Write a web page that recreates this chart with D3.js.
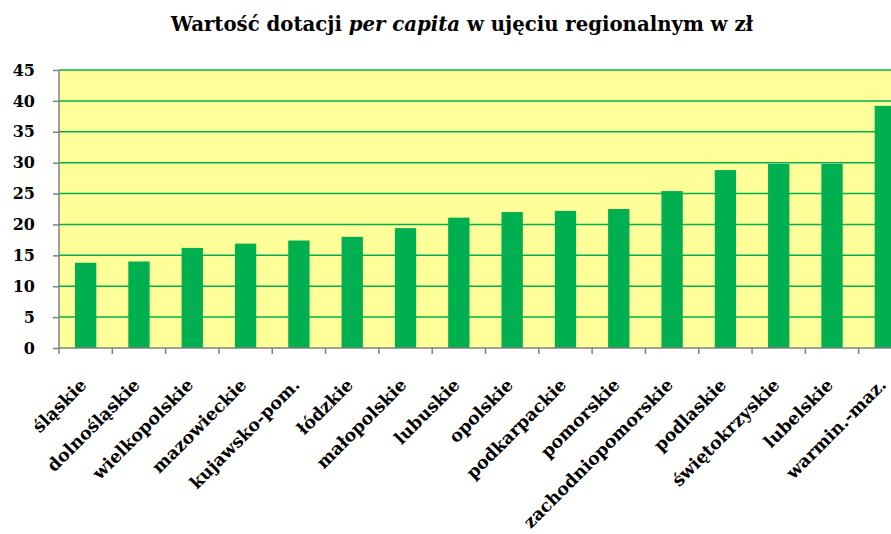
<!DOCTYPE html>
<html>
<head>
<meta charset="utf-8">
<script src="https://cdn.jsdelivr.net/npm/d3@7"></script>
<style>
  body { margin: 0; background: #fff; }
  .tick text { font-family: "DejaVu Serif", serif; font-weight: bold; }
</style>
</head>
<body>
<script>
// data
var regions = ["śląskie", "dolnośląskie", "wielkopolskie", "mazowieckie", "kujawsko-pom.",
  "łódzkie", "małopolskie", "lubuskie", "opolskie", "podkarpackie", "pomorskie",
  "zachodniopomorskie", "podlaskie", "świętokrzyskie", "lubelskie", "warmin.-maz."];
var values = [13.8, 14.0, 16.2, 16.9, 17.4, 18.0, 19.4, 21.1, 22.0, 22.2, 22.5, 25.4, 28.8, 29.8, 29.8, 39.2];
var yTicks = [0, 5, 10, 15, 20, 25, 30, 35, 40, 45];

var W = 891, H = 534;
var margin = {top: 70, left: 59},
    width = 853,   // plot runs past the right edge like in the original
    height = 278;

var svg = d3.select("body").append("svg")
    .attr("width", W)
    .attr("height", H);

var x = d3.scaleBand()
    .domain(regions)
    .range([0, width])
    .paddingInner(0.6)
    .paddingOuter(0.3);
var y = d3.scaleLinear()
    .domain([0, 45])
    .range([height, 0]);

var g = svg.append("g")
    .attr("transform", "translate(" + margin.left + "," + margin.top + ")");

// plot area
g.append("rect")
    .attr("width", width)
    .attr("height", height)
    .attr("fill", "#ffff99");

// gridlines
g.selectAll(".grid")
    .data(yTicks.filter(function(d) { return d > 0; }))
    .enter().append("line")
    .attr("class", "grid")
    .attr("x1", 0)
    .attr("x2", width)
    .attr("y1", function(d) { return y(d); })
    .attr("y2", function(d) { return y(d); })
    .attr("stroke", "#00b050")
    .attr("stroke-width", 1.5);

// bars
g.selectAll(".bar")
    .data(values)
    .enter().append("rect")
    .attr("class", "bar")
    .attr("x", function(d, i) { return x(regions[i]); })
    .attr("width", x.bandwidth())
    .attr("y", function(d) { return y(d); })
    .attr("height", function(d) { return height - y(d); })
    .attr("fill", "#00b050");

// y axis
var yAxis = g.append("g")
    .call(d3.axisLeft(y).tickValues(yTicks).tickSize(6).tickPadding(18).tickFormat(d3.format("d")));
yAxis.selectAll("line, path").attr("stroke", "#808080").attr("stroke-width", 1.5);
yAxis.select(".domain").attr("d", "M0,0V" + height);
yAxis.selectAll("text").attr("font-size", 16).attr("fill", "#000");

// x axis: ticks sit on category boundaries
var step = x.step();
var xg = g.append("g")
    .attr("transform", "translate(0," + height + ")");
xg.append("line")
    .attr("x1", 0).attr("x2", width)
    .attr("stroke", "#808080").attr("stroke-width", 1.5);
xg.selectAll(".xt")
    .data(d3.range(regions.length + 1))
    .enter().append("line")
    .attr("x1", function(i) { return i * step; })
    .attr("x2", function(i) { return i * step; })
    .attr("y1", 0).attr("y2", 6)
    .attr("stroke", "#808080").attr("stroke-width", 1.5);

xg.selectAll(".xl")
    .data(regions)
    .enter().append("text")
    .attr("class", "xl")
    .attr("transform", function(d) {
      return "translate(" + (x(d) + x.bandwidth() / 2 + 2) + ",38) rotate(-45)";
    })
    .attr("text-anchor", "end")
    .attr("font-family", "DejaVu Serif, serif")
    .attr("font-weight", "bold")
    .attr("font-size", 17.5)
    .text(function(d) { return d; });

// title
var title = svg.append("text")
    .attr("x", 462)
    .attr("y", 31)
    .attr("text-anchor", "middle")
    .attr("font-family", "DejaVu Serif, serif")
    .attr("font-weight", "bold")
    .attr("font-size", 19.7);
title.append("tspan").text("Wartość dotacji ");
title.append("tspan").attr("font-style", "italic").text("per capita");
title.append("tspan").text(" w ujęciu regionalnym w zł");
</script>
</body>
</html>
